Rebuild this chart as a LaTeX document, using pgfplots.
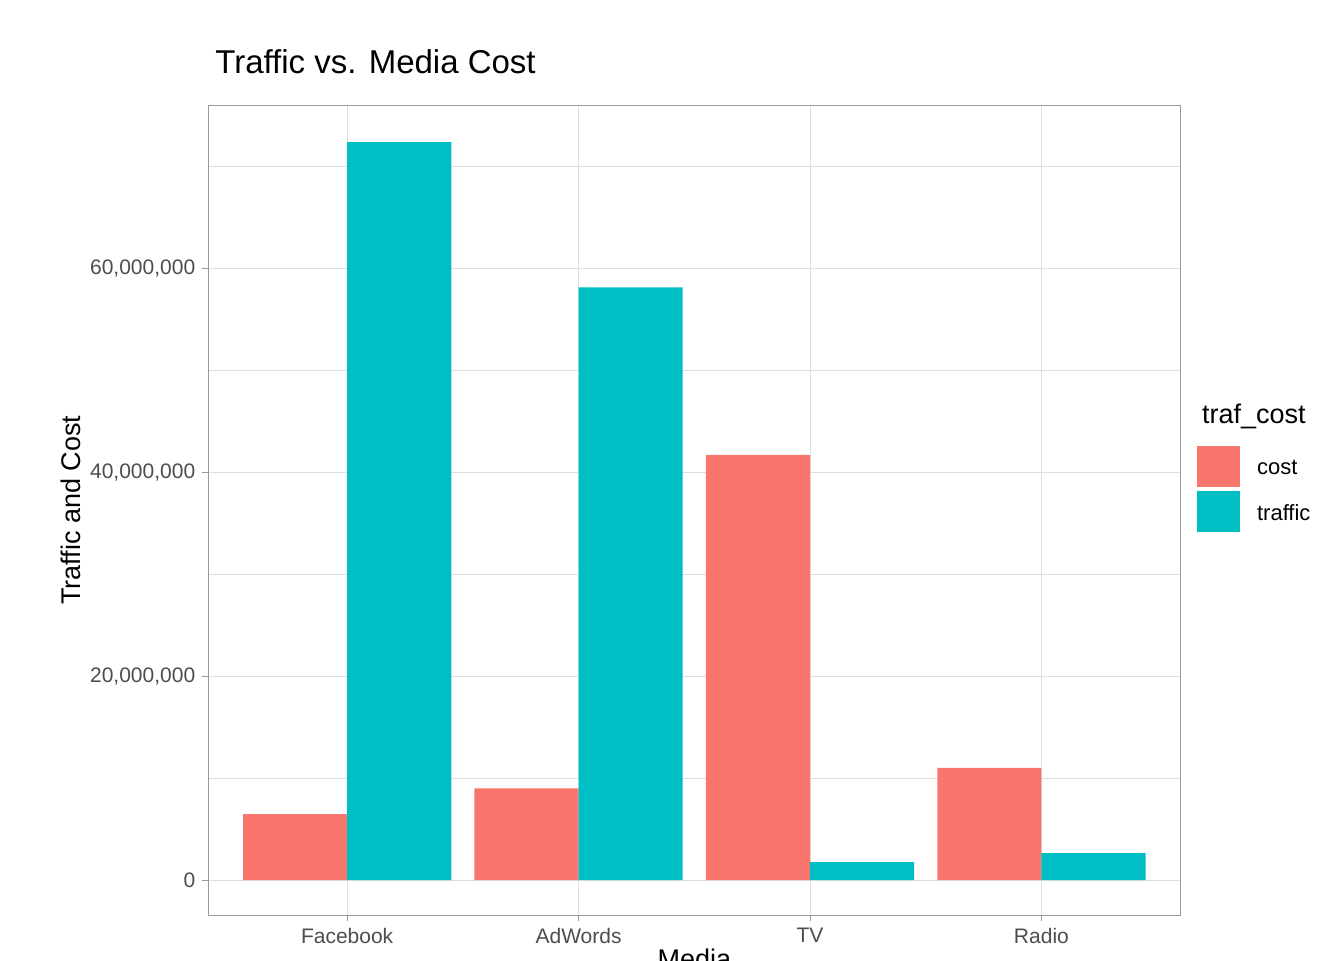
\documentclass[border=0pt]{standalone}
\usepackage{pgfplots}
\pgfplotsset{compat=1.18}
\usepackage{fontspec}
\setmainfont{Liberation Sans}
\definecolor{costc}{HTML}{F8766D}
\definecolor{trafc}{HTML}{00BFC4}
\definecolor{gridc}{HTML}{DEDEDE}
\definecolor{tickc}{HTML}{4D4D4D}
\begin{document}
\begin{tikzpicture}[x=1pt,y=1pt]
\useasboundingbox (0,0) rectangle (672,480);
\begin{axis}[
  at={(90,44)}, anchor=south west,
  scale only axis, width=486pt, height=405pt,
  xmin=-0.6, xmax=3.6, ymin=-3430000, ymax=75980000,
  xtick={0,1,2,3}, xticklabels={Facebook,AdWords,TV,Radio},
  ytick={0,20000000,40000000,60000000},
  minor ytick={10000000,30000000,50000000,70000000},
  scaled ticks=false,
  /pgf/number format/.cd, fixed, precision=0, 1000 sep={,}, assume math mode=true, /pgfplots/.cd,
  grid=both, major grid style={gridc, line width=0.5pt}, minor grid style={gridc, line width=0.3pt},
  axis line style={draw=gray!80, line width=0.6pt},
  tick pos=left,
  tick style={gray!80, line width=0.5pt}, tick align=outside, major tick length=3pt,
  minor tick length=0pt,
  ticklabel style={font=\fontsize{10.5}{12}\selectfont, text=tickc},
  xlabel={Media}, ylabel={Traffic and Cost},
  label style={font=\fontsize{13.5}{16}\selectfont},
  xlabel style={yshift=4pt}, ylabel style={yshift=-2pt},
  title={Traffic vs. Media Cost},
  title style={font=\fontsize{16.5}{19}\selectfont, at={(0,1)}, anchor=south west, yshift=6pt},
]
\addplot[ybar, bar width=0.45, bar shift=-0.225, fill=costc, draw=none]
  coordinates {(0,6470000) (1,9000000) (2,41700000) (3,11000000)};
\addplot[ybar, bar width=0.45, bar shift=0.225, fill=trafc, draw=none]
  coordinates {(0,72350000) (1,58100000) (2,1760000) (3,2650000)};
\end{axis}
\node[anchor=west, font=\fontsize{13.5}{16}\selectfont] at (597.5,272) {traf\_cost};
\fill[costc] (598.5,236.5) rectangle (620,257);
\fill[trafc] (598.5,214) rectangle (620,234.5);
\node[anchor=west, font=\fontsize{11}{13}\selectfont] at (625,246.5) {cost};
\node[anchor=west, font=\fontsize{11}{13}\selectfont] at (625,223.5) {traffic};
\end{tikzpicture}
\end{document}
